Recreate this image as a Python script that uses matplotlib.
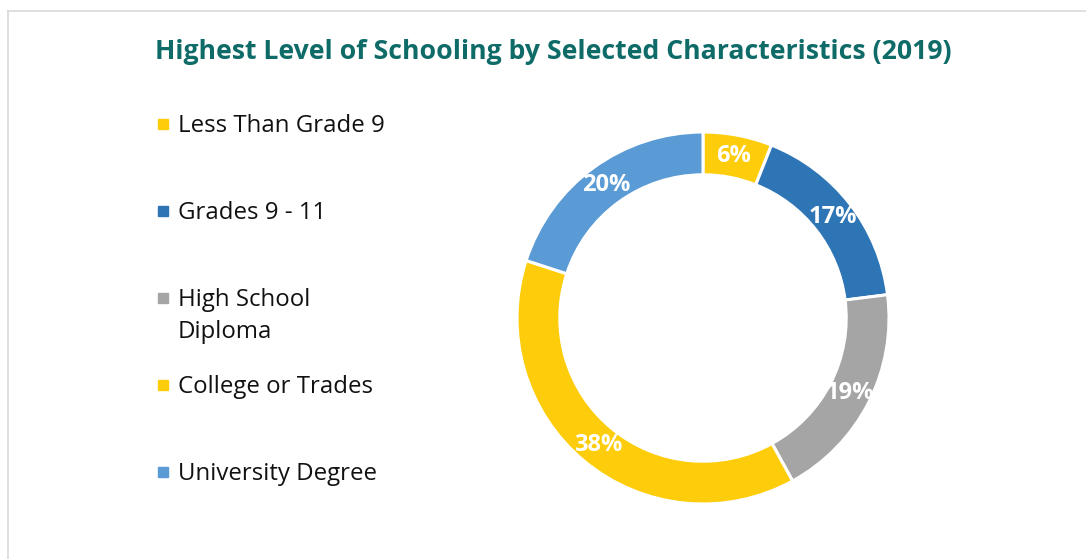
import matplotlib
matplotlib.use("Agg")
import matplotlib.pyplot as plt
from matplotlib.lines import Line2D
from matplotlib.patches import Rectangle

plt.rcParams["font.family"] = ["Open Sans", "DejaVu Sans"]

# data
categories = ["Less Than Grade 9", "Grades 9 - 11", "High School\nDiploma",
              "College or Trades", "University Degree"]
shares = [6, 17, 19, 38, 20]
colors = ["#FDCD0B", "#2E75B6", "#A5A5A5", "#FDCD0B", "#5B9BD5"]
title = "Highest Level of Schooling by Selected Characteristics (2019)"

W, H = 1086, 559
fig = plt.figure(figsize=(W / 100, H / 100), dpi=100)

# outer frame (only top and left edges visible)
fig.add_artist(Line2D([8 / W, 8 / W], [0, 1 - 11 / H], color="#D9D9D9", lw=1.2))
fig.add_artist(Line2D([8 / W, 1], [1 - 11 / H, 1 - 11 / H], color="#D9D9D9", lw=1.2))

fig.text(553 / W, 1 - 52 / H, title, ha="center", va="center",
         fontsize=19.2, fontweight="bold", color="#0E6B68")

# donut
cx, cy, r = 703, 318, 186
ax = fig.add_axes([(cx - r) / W, (H - cy - r) / H, 2 * r / W, 2 * r / H])
wedges, texts, autotexts = ax.pie(
    shares, colors=colors, startangle=90, counterclock=False, radius=1,
    wedgeprops=dict(width=0.23, edgecolor="white", linewidth=2.2),
    autopct=lambda p: f"{p:.0f}%", pctdistance=0.885,
    textprops=dict(color="white", fontsize=17, fontweight="bold"))
ax.set_xlim(-1, 1)
ax.set_ylim(-1, 1)
ax.set_aspect("equal")
ax.axis("off")

# legend, manual so entries stay evenly spaced by first line
for i, (lab, col) in enumerate(zip(categories, colors)):
    y = 124 + 87 * i
    fig.add_artist(Rectangle(((163 - 5) / W, 1 - (y + 5) / H), 10 / W, 10 / H,
                             color=col, transform=fig.transFigure))
    fig.text(178 / W, 1 - (y - 10) / H, lab, ha="left", va="top",
             fontsize=17.3, color="#111111", linespacing=1.45)

fig.savefig("out.png", dpi=100)
